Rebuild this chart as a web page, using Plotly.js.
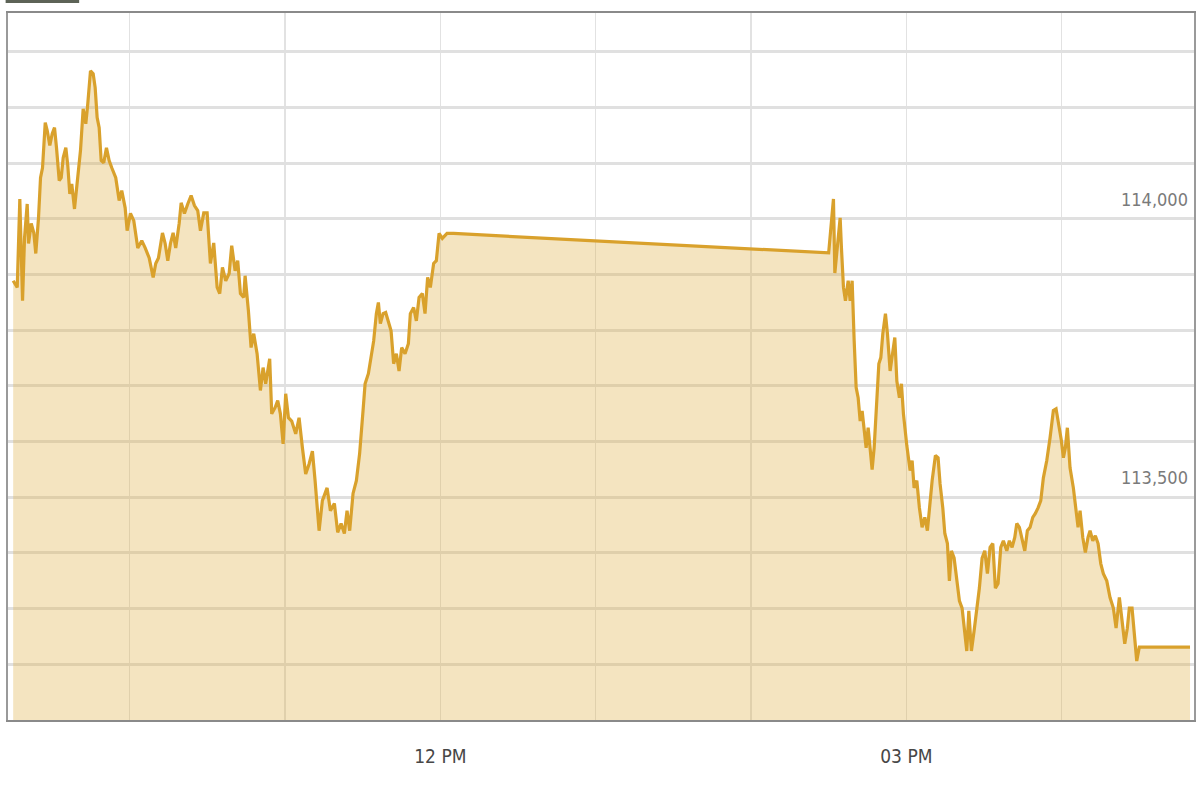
<!DOCTYPE html>
<html>
<head>
<meta charset="utf-8">
<script src="https://cdn.plot.ly/plotly-3.0.1.min.js"></script>
<style>
  html, body { margin: 0; padding: 0; background: #fff; }
  #chart { width: 1200px; height: 800px; }
</style>
</head>
<body>
<div id="chart"></div>
<script>
// Intraday index level, Friday session (9:15-12:00, 14:30-16:30)
const DAY = '2024-01-05';

const times = [
  '09:15:00', '09:16:34', '09:17:34', '09:18:37', '09:19:23', '09:20:25', '09:20:56', '09:21:58',
  '09:22:58', '09:23:44', '09:24:47', '09:25:34', '09:26:20', '09:27:23', '09:28:09', '09:29:09',
  '09:30:05', '09:30:58', '09:31:44', '09:32:47', '09:33:33', '09:34:19', '09:35:20', '09:36:06',
  '09:36:52', '09:37:38', '09:38:41', '09:39:43', '09:41:00', '09:42:02', '09:43:03', '09:43:49',
  '09:44:52', '09:45:54', '09:46:40', '09:47:26', '09:48:13', '09:48:59', '09:49:59', '09:51:02',
  '09:52:04', '09:53:05', '09:54:37', '09:55:56', '09:56:56', '09:58:15', '09:59:01', '10:00:18',
  '10:01:35', '10:03:07', '10:04:40', '10:05:59', '10:07:32', '10:09:04', '10:10:04', '10:11:07',
  '10:12:40', '10:13:42', '10:14:43', '10:15:45', '10:16:47', '10:17:47', '10:19:07', '10:19:53',
  '10:21:09', '10:22:26', '10:23:44', '10:25:01', '10:26:17', '10:27:20', '10:28:37', '10:29:55',
  '10:31:11', '10:32:28', '10:33:47', '10:34:47', '10:35:50', '10:37:06', '10:38:25', '10:39:25',
  '10:40:44', '10:41:44', '10:42:47', '10:44:03', '10:44:35', '10:45:52', '10:46:54', '10:47:55',
  '10:49:13', '10:50:30', '10:51:32', '10:52:32', '10:54:05', '10:54:52', '10:56:10', '10:57:11',
  '10:58:13', '10:59:16', '11:00:16', '11:01:19', '11:02:35', '11:04:08', '11:05:26', '11:06:43',
  '11:07:59', '11:09:18', '11:10:35', '11:11:37', '11:13:10', '11:14:26', '11:16:15', '11:17:32',
  '11:19:04', '11:20:21', '11:21:40', '11:22:56', '11:23:58', '11:24:59', '11:26:17', '11:27:34',
  '11:28:50', '11:30:09', '11:30:56', '11:32:12', '11:33:14', '11:34:15', '11:35:17', '11:36:04',
  '11:36:50', '11:37:53', '11:38:53', '11:39:55', '11:40:58', '11:41:58', '11:43:01', '11:44:03',
  '11:45:04', '11:46:22', '11:47:39', '11:48:25', '11:49:41', '11:50:44', '11:51:47', '11:53:03',
  '11:54:05', '11:55:06', '11:56:08', '11:57:25', '11:58:27', '11:59:30', '12:00:46', '12:02:35',
  '12:05:08',
  '14:30:00', '14:30:35', '14:31:51', '14:32:23', '14:33:23', '14:34:26', '14:34:56', '14:35:43',
  '14:36:29', '14:37:32', '14:38:18', '14:39:04', '14:39:51', '14:40:37', '14:41:23', '14:42:10',
  '14:42:56', '14:43:42', '14:44:28', '14:45:15', '14:46:01', '14:46:47', '14:47:34', '14:48:20',
  '14:49:23', '14:50:09', '14:50:55', '14:51:56', '14:52:42', '14:53:44', '14:54:47', '14:55:33',
  '14:56:20', '14:57:20', '14:58:06', '14:58:53', '15:00:11', '15:01:28', '15:02:14', '15:03:00',
  '15:04:03', '15:05:03', '15:06:05', '15:07:08', '15:08:08', '15:09:11', '15:09:58', '15:11:14',
  '15:12:16', '15:13:02', '15:14:05', '15:14:52', '15:15:52', '15:16:38', '15:17:25', '15:18:27',
  '15:19:30', '15:20:30', '15:21:32', '15:22:19', '15:23:21', '15:24:08', '15:25:08', '15:26:10',
  '15:27:13', '15:28:13', '15:29:16', '15:30:18', '15:31:19', '15:32:21', '15:33:24', '15:34:24',
  '15:35:26', '15:36:29', '15:37:29', '15:38:48', '15:39:48', '15:40:51', '15:41:53', '15:42:40',
  '15:43:40', '15:44:43', '15:45:45', '15:46:45', '15:47:48', '15:48:50', '15:49:50', '15:50:53',
  '15:51:56', '15:52:56', '15:54:15', '15:55:31', '15:56:48', '15:57:50', '15:58:53', '15:59:53',
  '16:00:40', '16:01:26', '16:02:12', '16:03:14', '16:04:31', '16:05:34', '16:06:20', '16:07:06',
  '16:08:09', '16:09:09', '16:10:11', '16:10:58', '16:12:01', '16:13:01', '16:14:04', '16:15:06',
  '16:16:06', '16:17:25', '16:18:41', '16:19:58', '16:21:01', '16:22:17', '16:23:20', '16:24:22',
  '16:25:22', '16:26:08', '16:27:11', '16:27:58', '16:29:00', '16:30:00', '16:32:52', '16:49:35'
];

const values = [
  113889, 113877, 114036, 113853, 113966, 114027, 113956, 113992,
  113975, 113938, 114002, 114074, 114092, 114173, 114159, 114132,
  114153, 114164, 114128, 114069, 114074, 114110, 114128, 114096,
  114045, 114063, 114018, 114063, 114123, 114198, 114171, 114207,
  114266, 114261, 114236, 114182, 114164, 114105, 114101, 114128,
  114105, 114092, 114074, 114033, 114051, 114020, 113979, 114010,
  113997, 113948, 113961, 113948, 113930, 113895, 113920, 113930,
  113975, 113956, 113925, 113956, 113975, 113948, 113992, 114029,
  114010, 114027, 114042, 114024, 114015, 113979, 114011, 114011,
  113920, 113957, 113877, 113866, 113913, 113889, 113902, 113952,
  113907, 113925, 113866, 113859, 113898, 113835, 113769, 113794,
  113758, 113692, 113733, 113704, 113749, 113650, 113661, 113674,
  113650, 113596, 113686, 113643, 113637, 113614, 113643, 113589,
  113542, 113560, 113583, 113530, 113440, 113494, 113517, 113476,
  113489, 113437, 113453, 113435, 113476, 113440, 113507, 113530,
  113579, 113656, 113704, 113722, 113751, 113781, 113830, 113850,
  113812, 113830, 113832, 113817, 113799, 113740, 113758, 113727,
  113769, 113758, 113776, 113830, 113841, 113817, 113859, 113866,
  113830, 113895, 113877, 113920, 113925, 113974, 113965, 113974,
  113974,
  113939, 113966, 114036, 113903, 113948, 114002, 113948, 113877,
  113853, 113889, 113853, 113889, 113781, 113697, 113679, 113637,
  113655, 113614, 113589, 113625, 113581, 113550, 113589, 113650,
  113740, 113751, 113794, 113830, 113794, 113727, 113758, 113787,
  113709, 113679, 113704, 113650, 113593, 113548, 113566, 113517,
  113530, 113481, 113446, 113464, 113440, 113494, 113530, 113575,
  113571, 113524, 113481, 113435, 113417, 113350, 113404, 113391,
  113355, 113314, 113301, 113265, 113224, 113296, 113224, 113260,
  113301, 113337, 113391, 113404, 113363, 113410, 113417, 113337,
  113345, 113410, 113422, 113404, 113422, 113410, 113428, 113453,
  113446, 113422, 113404, 113440, 113446, 113464, 113471, 113481,
  113494, 113535, 113566, 113607, 113656, 113659, 113632, 113602,
  113571, 113589, 113625, 113553, 113517, 113481, 113446, 113476,
  113428, 113401, 113428, 113440, 113422, 113431, 113417, 113381,
  113363, 113350, 113320, 113301, 113265, 113320, 113273, 113237,
  113265, 113301, 113301, 113260, 113206, 113231, 113231, 113231
];

// hourly gridlines, labels only every third hour
const hourTicks = ['10:00', '11:00', '12:00', '13:00', '14:00', '15:00', '16:00'];
const hourLabels = ['', '', '12 PM', '', '', '03 PM', ''];

const levelLabelVals = [114000, 113500];
const levelLabelText = ['114,000', '113,500'];

const xRange = ['09:13:00', '16:51:07'];
const yRange = [113100, 114370];

const stamp = t => `${DAY} ${t}`;
const labelFont = 'DejaVu Sans Condensed, Liberation Sans Narrow, Liberation Sans, sans-serif';

const trace = {
  x: times.map(stamp),
  y: values,
  type: 'scatter',
  mode: 'lines',
  line: { color: '#D9A12C', width: 3.2 },
  fill: 'tozeroy',
  fillcolor: 'rgba(222,170,60,0.32)',
  hoverinfo: 'none',
};

const annotations = levelLabelVals.map((v, i) => ({
  xref: 'paper', yref: 'y',
  x: 1, y: v,
  xanchor: 'right', yanchor: 'bottom',
  xshift: -4, yshift: 7,
  text: levelLabelText[i],
  showarrow: false,
  font: { family: labelFont, size: 18, color: '#7a7a7a' },
}));

const layout = {
  width: 1200,
  height: 800,
  margin: { l: 8, r: 6, t: 13, b: 80 },
  paper_bgcolor: '#ffffff',
  plot_bgcolor: '#ffffff',
  showlegend: false,
  xaxis: {
    type: 'date',
    range: xRange.map(stamp),
    tickvals: hourTicks.map(stamp),
    ticktext: hourLabels,
    ticks: '',
    ticklen: 0,
    showgrid: true,
    gridcolor: '#e2e2e2',
    gridwidth: 1.5,
    zeroline: false,
    showline: true,
    linecolor: '#8a8a8a',
    linewidth: 2,
    mirror: true,
    tickfont: { family: labelFont, size: 19, color: '#474747' },
    ticklabelstandoff: 18,
    fixedrange: true,
  },
  yaxis: {
    range: yRange,
    tick0: 113100,
    dtick: 100,
    showticklabels: false,
    ticks: '',
    showgrid: true,
    gridcolor: '#e0e0e0',
    gridwidth: 3,
    zeroline: false,
    showline: true,
    linecolor: '#9a9a9a',
    linewidth: 2,
    mirror: true,
    fixedrange: true,
  },
  annotations,
  shapes: [{
    type: 'rect', xref: 'paper', yref: 'paper',
    x0: -0.002, x1: 0.06, y0: 1.014, y1: 1.03,
    fillcolor: '#5d6357', line: { width: 0 },
  }],
};

Plotly.newPlot('chart', [trace], layout, { displayModeBar: false, staticPlot: true });
</script>
</body>
</html>
